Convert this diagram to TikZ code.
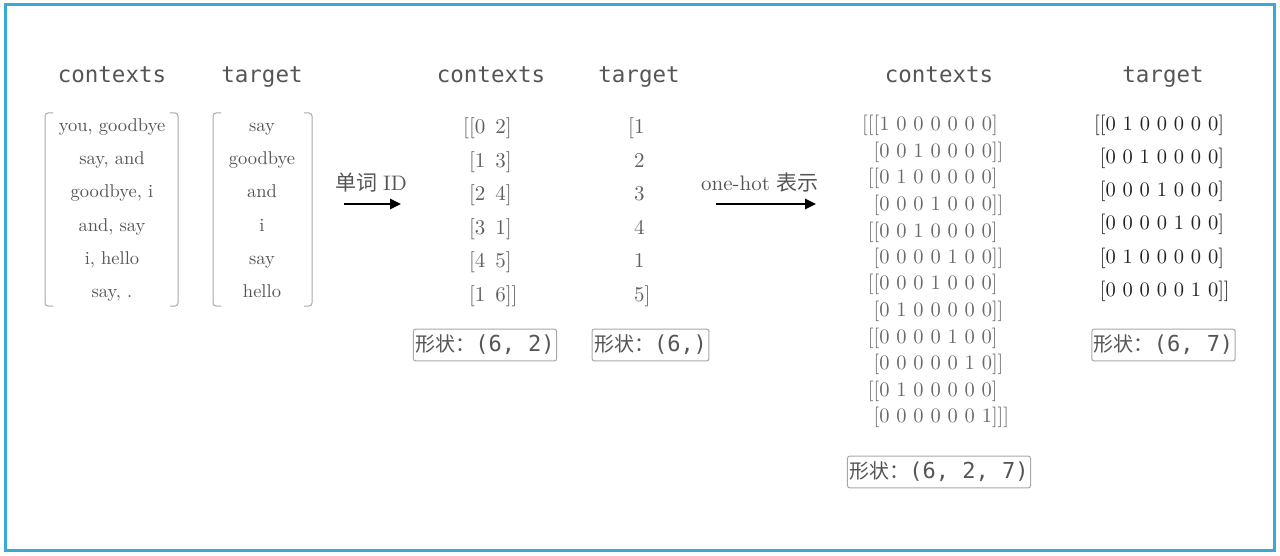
\documentclass[tikz,border=0pt]{standalone}
\usepackage{fontspec}
\setmainfont{lmroman10-regular}[Extension=.otf]
\newfontfamily\cjkf{Noto Sans CJK SC}
\newfontfamily\monof{DejaVu Sans Mono}
\usetikzlibrary{arrows.meta}
\definecolor{framecol}{HTML}{3BA9D3}
\definecolor{hdrcol}{HTML}{555555}
\definecolor{wordcol}{HTML}{555555}
\definecolor{numcol}{HTML}{606060}
\definecolor{ohcol}{HTML}{6A6A6A}
\definecolor{tgtcol}{HTML}{222222}
\definecolor{boxcol}{HTML}{A8A8A8}
\tikzset{
  hdr/.style={anchor=base, inner sep=0pt, text=hdrcol, font=\monof\fontsize{22.5}{26}\selectfont},
  word/.style={anchor=base, inner sep=0pt, text=wordcol, font=\fontsize{18.5}{22}\selectfont},
  num/.style={anchor=base west, inner sep=0pt, text=numcol, font=\fontsize{21}{24}\selectfont},
  ohnum/.style={anchor=base west, inner sep=0pt, text=ohcol, font=\fontsize{20.5}{24}\selectfont},
  tgnum/.style={anchor=base west, inner sep=0pt, text=tgtcol, font=\fontsize{20.5}{24}\selectfont},
  shapebox/.style={draw=boxcol, line width=1pt, rounded corners=2.5pt, text=hdrcol, inner xsep=2pt, inner ysep=6pt},
  brk/.style={draw=boxcol, line width=1pt, rounded corners=3pt},
  arrlbl/.style={inner sep=0pt, text=hdrcol, font=\fontsize{21}{24}\selectfont},
  arr/.style={line width=2.5pt, -{Triangle[length=11pt,width=10pt]}},
}
\newcommand{\shp}[1]{{\cjkf\fontsize{20}{22}\selectfont 形状：}{\monof\fontsize{22}{26}\selectfont #1}}
\newcommand{\wsp}{\hspace{10pt}}
\begin{document}
\begin{tikzpicture}[x=1pt,y=-1pt]
\useasboundingbox (0,0) rectangle (1280,556);
\draw[framecol, line width=3pt] (5,5) rectangle (1274,550);

% headers
\node[hdr] (h1) at (112,83) {contexts};
\node[hdr] (h2) at (262,83) {target};
\node[hdr] (h3) at (491,83) {contexts};
\node[hdr] (h4) at (639,83) {target};
\node[hdr] (h5) at (939,83) {contexts};
\node[hdr] (h6) at (1163,83) {target};

% left word lists
\foreach \t [count=\i] in {{you, goodbye},{say, and},{goodbye, i},{and, say},{i, hello},{say, .}}
  \node[word] (wc\i) at (112,{131.5+33.2*(\i-1)}) {\t};
\foreach \t [count=\i] in {say,goodbye,and,i,say,hello}
  \node[word] (wt\i) at (262,{131.5+33.2*(\i-1)}) {\t};
\draw[brk] (53,113) -- (45,113) -- (45,306) -- (53,306);
\draw[brk] (170,113) -- (178,113) -- (178,306) -- (170,306);
\draw[brk] (221,113) -- (213,113) -- (213,306) -- (221,306);
\draw[brk] (304,113) -- (312,113) -- (312,306) -- (304,306);

% word ID arrays
\foreach \t [count=\i] in {{[[0\wsp2]},{\phantom{[}[1\wsp3]},{\phantom{[}[2\wsp4]},{\phantom{[}[3\wsp1]},{\phantom{[}[4\wsp5]},{\phantom{[}[1\wsp6]]}}
  \node[num] (ic\i) at (463,{134+33.5*(\i-1)}) {\t};
\foreach \t [count=\i] in {{[1},{\phantom{[}2},{\phantom{[}3},{\phantom{[}4},{\phantom{[}1},{\phantom{[}5]}}
  \node[num] (it\i) at (628,{134+33.5*(\i-1)}) {\t};

% one-hot arrays
\foreach \t [count=\i] in {
  {[[[1 0 0 0 0 0 0]},
  {\phantom{[[}[0 0 1 0 0 0 0]]},
  {\phantom{[}[[0 1 0 0 0 0 0]},
  {\phantom{[[}[0 0 0 1 0 0 0]]},
  {\phantom{[}[[0 0 1 0 0 0 0]},
  {\phantom{[[}[0 0 0 0 1 0 0]]},
  {\phantom{[}[[0 0 0 1 0 0 0]},
  {\phantom{[[}[0 1 0 0 0 0 0]]},
  {\phantom{[}[[0 0 0 0 1 0 0]},
  {\phantom{[[}[0 0 0 0 0 1 0]]},
  {\phantom{[}[[0 1 0 0 0 0 0]},
  {\phantom{[[}[0 0 0 0 0 0 1]]]}}
  \node[ohnum] (oc\i) at (862,{131+26.5*(\i-1)}) {\t};
\foreach \t [count=\i] in {
  {[[0 1 0 0 0 0 0]},
  {\phantom{[}[0 0 1 0 0 0 0]},
  {\phantom{[}[0 0 0 1 0 0 0]},
  {\phantom{[}[0 0 0 0 1 0 0]},
  {\phantom{[}[0 1 0 0 0 0 0]},
  {\phantom{[}[0 0 0 0 0 1 0]]}}
  \node[tgnum] (ot\i) at (1094,{131+33*(\i-1)}) {\t};

% shape boxes
\node[shapebox] (s1) at (485,345) {\shp{(6, 2)}};
\node[shapebox] (s2) at (650.5,345) {\shp{(6,)}};
\node[shapebox] (s3) at (939,472) {\shp{(6, 2, 7)}};
\node[shapebox] (s4) at (1163.5,345) {\shp{(6, 7)}};

% arrows
\node[arrlbl] (l1) at (371,183) {{\cjkf 单词}\hspace{-1pt} ID};
\coordinate (a1s) at (344,204);
\coordinate (a1e) at (401,204);
\draw[arr] (a1s) -- (a1e);
\node[arrlbl] (l2) at (760,183) {one-hot {\cjkf 表示}};
\coordinate (a2s) at (716,204);
\coordinate (a2e) at (816,204);
\draw[arr] (a2s) -- (a2e);
\end{tikzpicture}
\end{document}
